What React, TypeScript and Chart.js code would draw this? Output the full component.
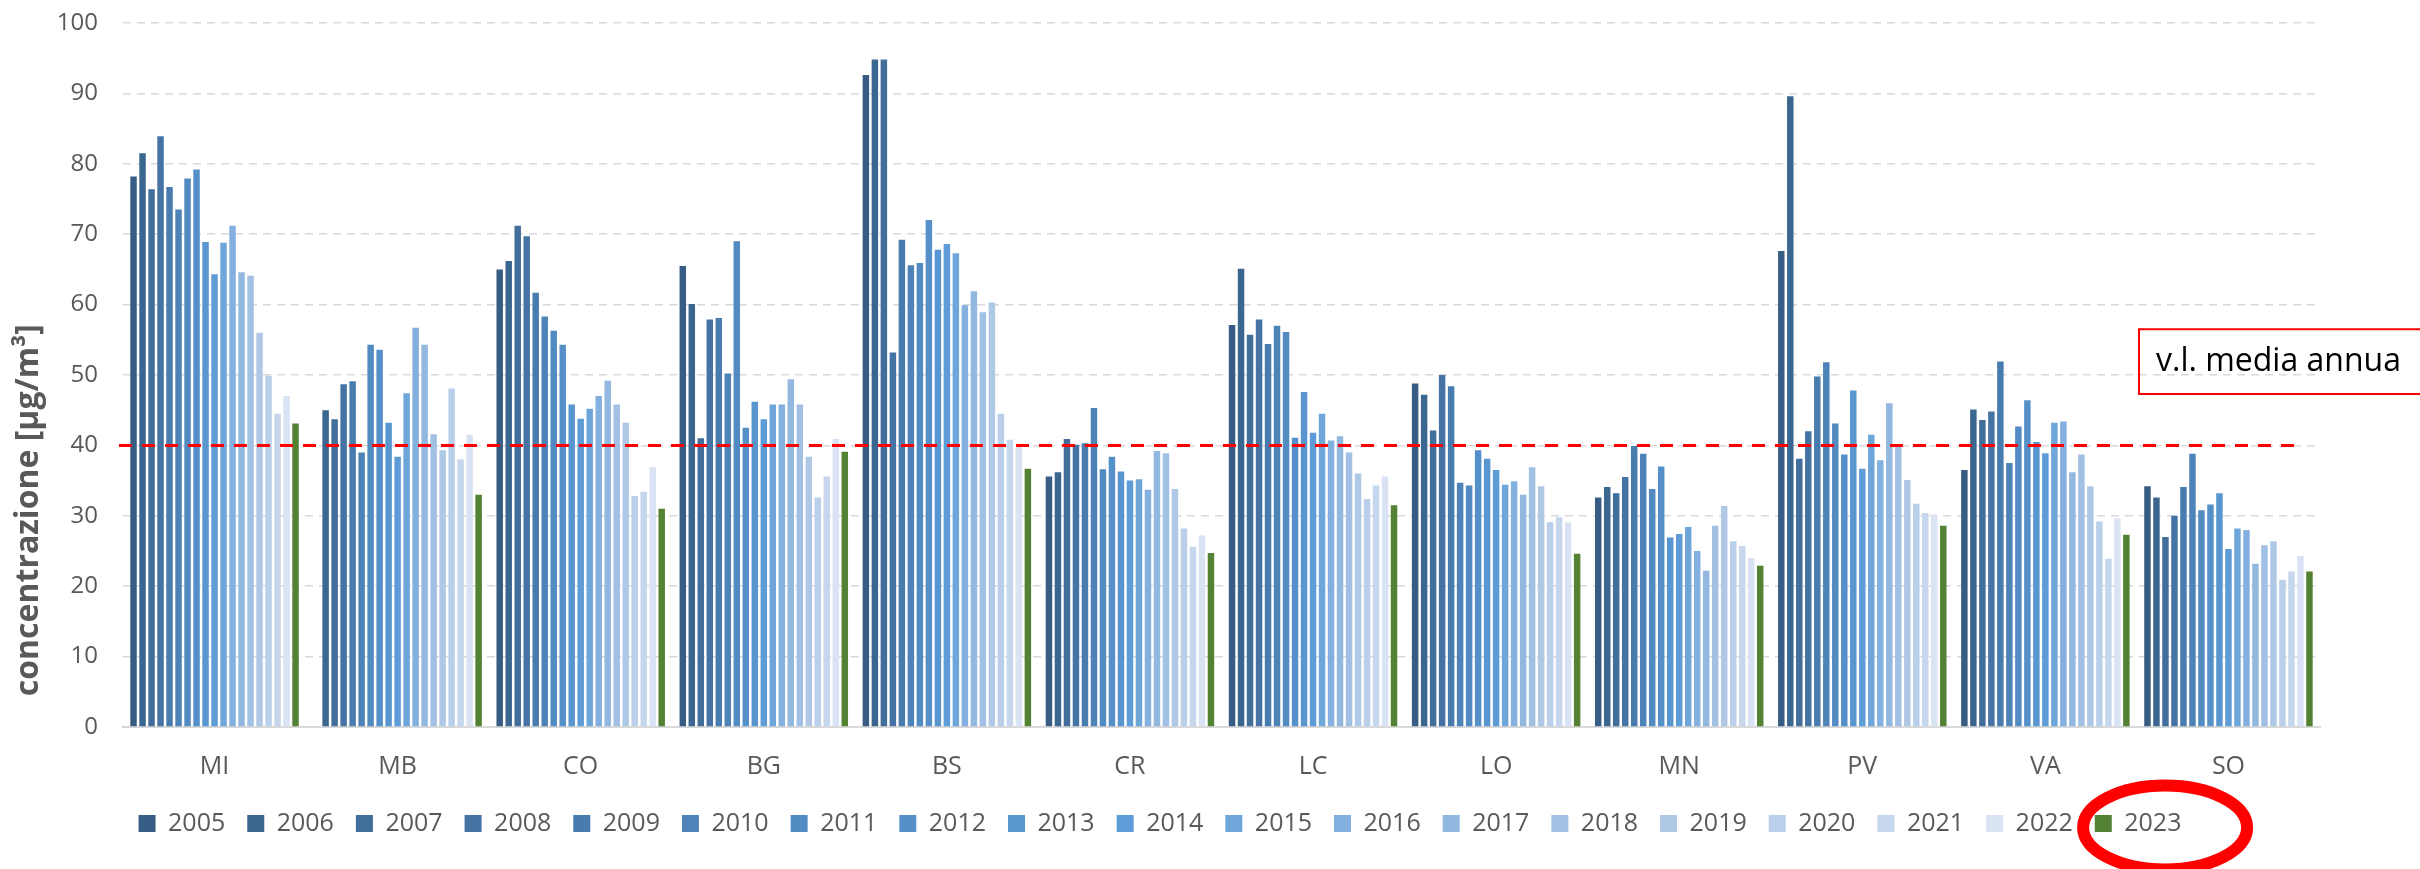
import React, { useEffect, useRef } from "react";
import { Chart, registerables } from "chart.js";

Chart.register(...registerables);

const categories = ["MI", "MB", "CO", "BG", "BS", "CR", "LC", "LO", "MN", "PV", "VA", "SO"];
const years = ["2005", "2006", "2007", "2008", "2009", "2010", "2011", "2012", "2013", "2014", "2015", "2016", "2017", "2018", "2019", "2020", "2021", "2022", "2023"];

// values per province, 2005 .. 2023 (µg/m³)
const MI = [78.2, 81.5, 76.4, 83.9, 76.7, 73.5, 77.9, 79.2, 68.9, 64.3, 68.8, 71.2, 64.6, 64.1, 56.0, 49.9, 44.5, 47.0, 43.1];
const MB = [null, 45.0, 43.7, 48.7, 49.1, 39.0, 54.3, 53.6, 43.2, 38.4, 47.4, 56.7, 54.3, 41.6, 39.3, 48.1, 38.0, 41.5, 33.0];
const CO = [65.0, 66.2, 71.2, 69.7, 61.7, 58.3, 56.3, 54.3, 45.8, 43.8, 45.2, 47.0, 49.2, 45.8, 43.2, 32.8, 33.4, 36.9, 31.0];
const BG = [65.5, 60.1, 41.0, 57.9, 58.1, 50.2, 69.0, 42.5, 46.2, 43.7, 45.8, 45.8, 49.4, 45.8, 38.4, 32.6, 35.6, 40.9, 39.1];
const BS = [92.6, 94.8, 94.8, 53.2, 69.2, 65.6, 65.9, 72.0, 67.8, 68.6, 67.3, 59.9, 61.9, 58.9, 60.3, 44.5, 40.8, 39.8, 36.7];
const CR = [35.6, 36.2, 40.9, 40.1, 40.3, 45.3, 36.6, 38.4, 36.3, 35.0, 35.2, 33.7, 39.2, 38.9, 33.8, 28.2, 25.6, 27.2, 24.7];
const LC = [57.1, 65.1, 55.7, 57.9, 54.4, 57.0, 56.1, 41.1, 47.6, 41.8, 44.5, 40.7, 41.3, 39.0, 36.0, 32.4, 34.3, 35.6, 31.5];
const LO = [48.8, 47.2, 42.1, 50.0, 48.4, 34.7, 34.3, 39.3, 38.1, 36.5, 34.4, 34.9, 33.0, 36.9, 34.2, 29.1, 29.8, 29.1, 24.6];
const MN = [32.6, 34.1, 33.2, 35.5, 39.9, 38.8, 33.8, 37.0, 26.9, 27.4, 28.4, 25.0, 22.2, 28.6, 31.4, 26.4, 25.7, 24.0, 22.9];
const PV = [67.6, 89.6, 38.1, 42.0, 49.8, 51.8, 43.1, 38.7, 47.8, 36.7, 41.5, 37.9, 46.0, 40.1, 35.1, 31.7, 30.4, 30.2, 28.6];
const VA = [36.5, 45.1, 43.6, 44.8, 51.9, 37.5, 42.7, 46.4, 40.5, 38.9, 43.2, 43.4, 36.2, 38.7, 34.2, 29.2, 23.9, 29.6, 27.3];
const SO = [34.2, 32.6, 27.0, 30.0, 34.1, 38.8, 30.8, 31.6, 33.2, 25.3, 28.2, 28.0, 23.2, 25.8, 26.4, 20.9, 22.1, 24.3, 22.1];

const provinceValues = [MI, MB, CO, BG, BS, CR, LC, LO, MN, PV, VA, SO];

const yearColors = [
  "#375d84", "#3b6690", "#416e9b", "#4574a4", "#497cae", "#4e83b8", "#528ac2",
  "#5690c9", "#5996cf", "#5d9cd6", "#6fa6da", "#83b0de", "#93b8e0", "#a2c0e3",
  "#afc8e6", "#bacfe9", "#c6d6ec", "#d9e3f3", "#548235",
];

const yTicks = { min: 0, max: 100, step: 10 };
const LIMIT_VALUE = 40;
const LIMIT_LABEL = "v.l. media annua";
const Y_TITLE = "concentrazione [µg/m³]";
const HIGHLIGHT_YEAR = "2023";

const FONT = "'Open Sans', 'DejaVu Sans', sans-serif";

const overlayPlugin = {
  id: "overlay",
  afterDatasetsDraw(chart: any) {
    const { ctx, chartArea, scales } = chart;
    const y = scales.y;
    const yPix = y.getPixelForValue(LIMIT_VALUE);
    ctx.save();
    ctx.strokeStyle = "#ff0000";
    ctx.lineWidth = 3;
    ctx.setLineDash([13, 10]);
    ctx.beginPath();
    ctx.moveTo(chartArea.left - 4, yPix);
    ctx.lineTo(chartArea.right - 26, yPix);
    ctx.stroke();
    ctx.restore();
  },
  afterDraw(chart: any) {
    const { ctx, chartArea, scales, width } = chart;
    const y = scales.y;
    ctx.save();
    // y-axis title
    ctx.translate(29, y.getPixelForValue(30.8));
    ctx.rotate(-Math.PI / 2);
    ctx.font = `bold 32px ${FONT}`;
    ctx.fillStyle = "#595959";
    ctx.textAlign = "center";
    ctx.textBaseline = "middle";
    ctx.fillText(Y_TITLE, 0, 0);
    ctx.restore();

    // limit label box
    ctx.save();
    const boxLeft = chartArea.right - 181;
    const boxTop = y.getPixelForValue(56.5);
    const boxBottom = y.getPixelForValue(47.3);
    ctx.strokeStyle = "#ff0000";
    ctx.lineWidth = 2;
    ctx.strokeRect(boxLeft, boxTop, width - boxLeft + 5, boxBottom - boxTop);
    ctx.font = `32px ${FONT}`;
    ctx.fillStyle = "#000000";
    ctx.textAlign = "left";
    ctx.textBaseline = "middle";
    ctx.fillText(LIMIT_LABEL, boxLeft + 17, (boxTop + boxBottom) / 2);
    ctx.restore();

    // highlight ellipse around the last legend entry
    const idx = years.indexOf(HIGHLIGHT_YEAR);
    const hb = chart.legend && chart.legend.legendHitBoxes && chart.legend.legendHitBoxes[idx];
    if (hb) {
      const cx = hb.left + hb.width / 2 + 27;
      const cy = hb.top + hb.height / 2 + 4;
      ctx.save();
      ctx.strokeStyle = "#ff0000";
      ctx.lineWidth = 12;
      ctx.beginPath();
      ctx.ellipse(cx, cy, 82, 42, 0, 0, Math.PI * 2);
      ctx.stroke();
      ctx.restore();
    }
  },
};

export default function App() {
  const canvasRef = useRef<HTMLCanvasElement | null>(null);

  useEffect(() => {
    document.body.style.margin = "0";
    const canvas = canvasRef.current;
    if (!canvas) return;
    Chart.defaults.font.family = FONT;

    const datasets = years.map((yr, i) => ({
      label: yr,
      data: provinceValues.map((p) => p[i]),
      backgroundColor: yearColors[i],
      borderWidth: 0,
      categoryPercentage: 0.934,
      barPercentage: 0.72,
    }));

    const chart = new Chart(canvas, {
      type: "bar",
      data: { labels: categories, datasets },
      plugins: [overlayPlugin],
      options: {
        responsive: false,
        animation: false,
        layout: { padding: { top: 23, right: 100, bottom: 23, left: 0 } },
        plugins: {
          tooltip: { enabled: false },
          legend: {
            position: "bottom",
            labels: {
              boxWidth: 17,
              boxHeight: 17,
              padding: 22,
              color: "#595959",
              font: { size: 25, family: FONT },
            },
          },
        },
        scales: {
          x: {
            grid: { display: false, drawTicks: false },
            border: { display: true, color: "#d9d9d9", width: 2 },
            ticks: { color: "#595959", font: { size: 25, family: FONT }, padding: 24.5 },
            afterFit: (scale: any) => {
              scale.height -= 17;
            },
          },
          y: {
            min: yTicks.min,
            max: yTicks.max,
            grid: { color: "#d9d9d9", lineWidth: 1.5, drawTicks: false },
            border: { display: false, dash: [8, 6] },
            ticks: {
              stepSize: yTicks.step,
              color: "#595959",
              font: { size: 24, family: FONT },
              padding: 25,
            },
            afterFit: (scale: any) => {
              scale.width = 123;
              scale.paddingTop = 0;
              scale.paddingBottom = 0;
            },
          },
        },
      },
    });
    return () => chart.destroy();
  }, []);

  return (
    <div style={{ width: 2420, height: 869, background: "#ffffff" }}>
      <canvas ref={canvasRef} width={2420} height={869} />
    </div>
  );
}
